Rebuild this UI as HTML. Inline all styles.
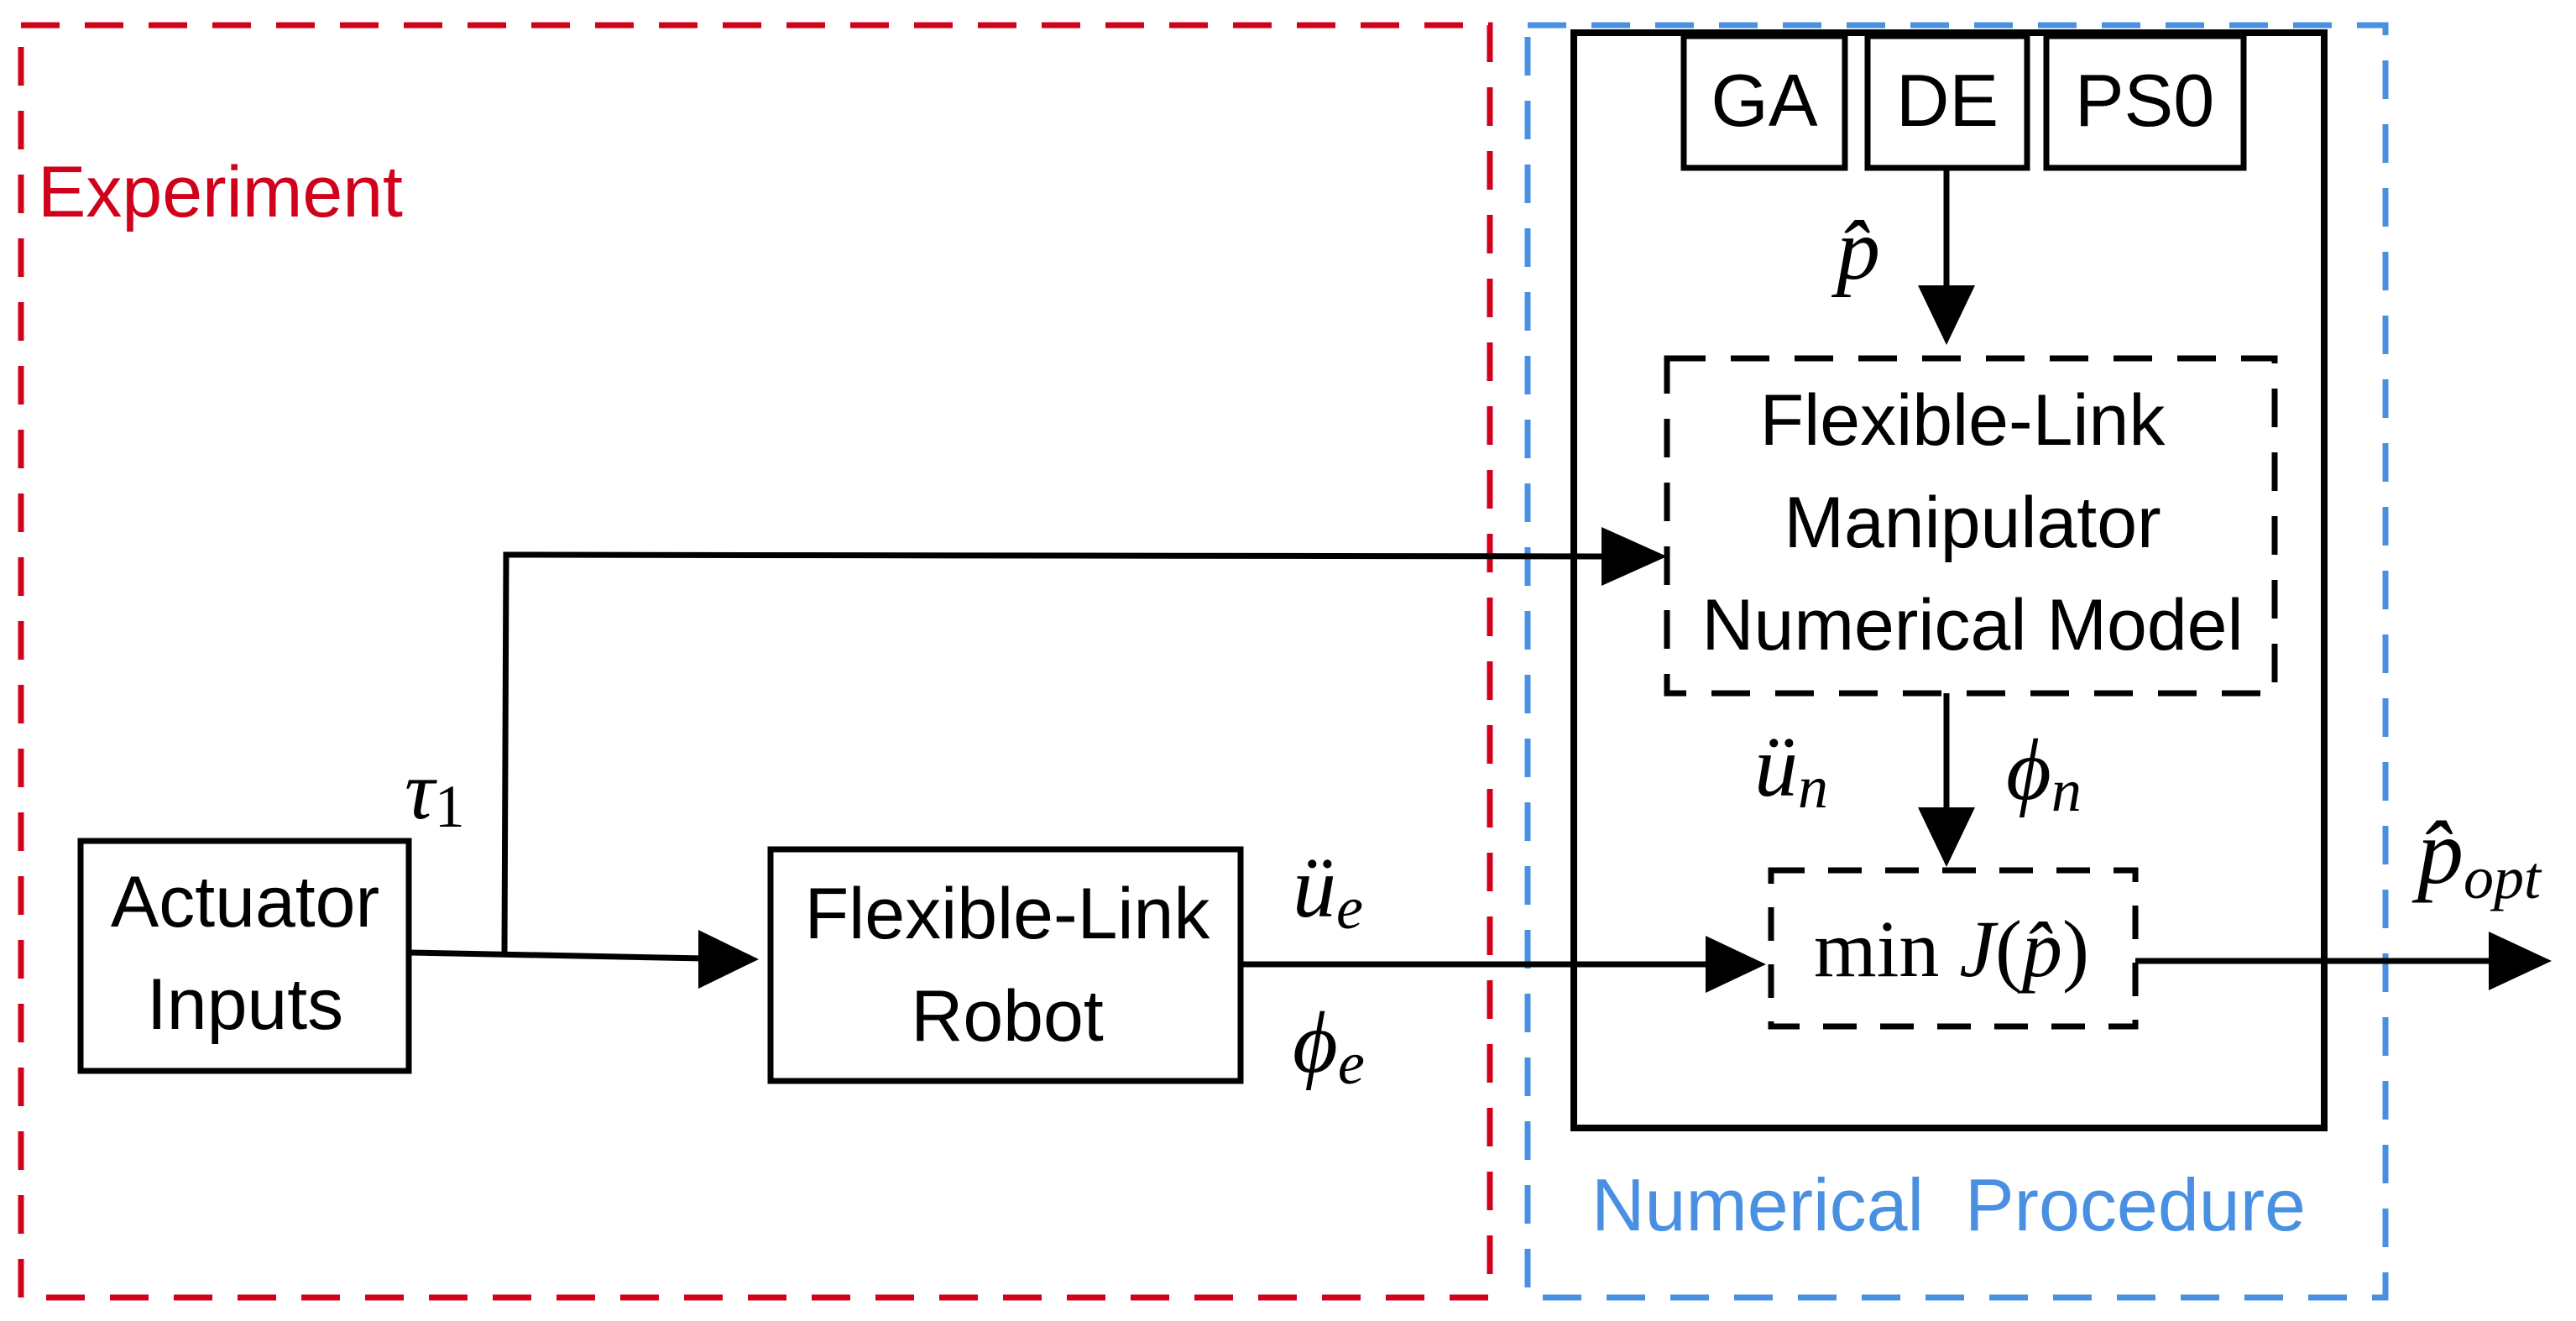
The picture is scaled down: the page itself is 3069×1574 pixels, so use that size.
<!DOCTYPE html>
<html><head><meta charset="utf-8"><style>html,body{margin:0;padding:0;background:#fff}svg{display:block}</style></head>
<body>
<svg width="3069" height="1574" viewBox="0 0 3069 1574" xmlns="http://www.w3.org/2000/svg">
<rect x="0" y="0" width="3069" height="1574" fill="#fff"/>
<rect x="25" y="30" width="1750" height="1516" fill="none" stroke="#d0021b" stroke-width="7" stroke-dasharray="46,30"/>
<rect x="1820" y="30" width="1022" height="1516" fill="none" stroke="#4a90e2" stroke-width="7" stroke-dasharray="46,30"/>
<text x="45" y="258" font-family="Liberation Sans, sans-serif" font-size="86" fill="#d0021b">Experiment</text>
<text x="1896" y="1466" font-family="Liberation Sans, sans-serif" font-size="88" fill="#4a90e2" xml:space="preserve">Numerical  Procedure</text>
<rect x="1875" y="39" width="894" height="1305" fill="none" stroke="#000" stroke-width="8"/>
<g fill="none" stroke="#000" stroke-width="7">
<rect x="2006" y="43" width="192" height="157"/>
<rect x="2225" y="43" width="190" height="157"/>
<rect x="2438" y="43" width="235" height="157"/>
<rect x="96" y="1002" width="391" height="274"/>
<rect x="918" y="1012" width="560" height="276"/>
<rect x="1986" y="427" width="724" height="399" stroke-dasharray="46,30"/>
<rect x="2110" y="1037" width="434" height="186" stroke-dasharray="40,28"/>
<polyline points="601,1135 603,661 1910,663"/>
<line x1="487" y1="1135" x2="840" y2="1142"/>
<line x1="1478" y1="1149" x2="2040" y2="1149"/>
<line x1="2544" y1="1145" x2="2970" y2="1145"/>
<line x1="2319" y1="200" x2="2319" y2="345"/>
<line x1="2319" y1="826" x2="2319" y2="965"/>
</g>
<g fill="#000">
<polygon points="1908,628 1986,663 1908,698"/>
<polygon points="832,1108 904,1143 832,1178"/>
<polygon points="2032,1115 2104,1149 2032,1183"/>
<polygon points="2965,1110 3040,1145 2965,1180"/>
<polygon points="2285,340 2319,411 2353,340"/>
<polygon points="2285,962 2319,1033 2353,962"/>
</g>
<g font-family="Liberation Sans, sans-serif" font-size="88" fill="#000" text-anchor="middle">
<text x="2102" y="150">GA</text>
<text x="2320" y="150">DE</text>
<text x="2555" y="150">PS0</text>
</g>
<g font-family="Liberation Sans, sans-serif" font-size="86" fill="#000" text-anchor="middle">
<text x="2338" y="530">Flexible-Link</text>
<text x="2350" y="652">Manipulator</text>
<text x="2350" y="774">Numerical Model</text>
<text x="292" y="1104">Actuator</text>
<text x="292" y="1226">Inputs</text>
<text x="1200" y="1118">Flexible-Link</text>
<text x="1200" y="1240">Robot</text>
</g>
<g font-family="Liberation Serif, serif" fill="#000">
<text x="2325" y="1163" font-size="96" text-anchor="middle">min <tspan font-style="italic">J</tspan>(<tspan font-style="italic">p̂</tspan>)</text>
<text x="2188" y="332" font-size="104" font-style="italic">p̂</text>
<text x="482" y="975" font-size="100" font-style="italic">τ<tspan font-style="normal" font-size="72" dy="10">1</tspan></text>
<text x="1540" y="1092" font-size="104" font-style="italic">ü<tspan font-size="72" dy="14">e</tspan></text>
<text x="1540" y="1277" font-size="104" font-style="italic">ϕ<tspan font-size="72" dy="14">e</tspan></text>
<text x="2090" y="948" font-size="104" font-style="italic">ü<tspan font-size="72" dy="14">n</tspan></text>
<text x="2390" y="952" font-size="104" font-style="italic">ϕ<tspan font-size="72" dy="14">n</tspan></text>
<text x="2880" y="1052" font-size="110" font-style="italic">p̂<tspan font-size="72" dy="18">opt</tspan></text>
</g>
</svg>
</body></html>
